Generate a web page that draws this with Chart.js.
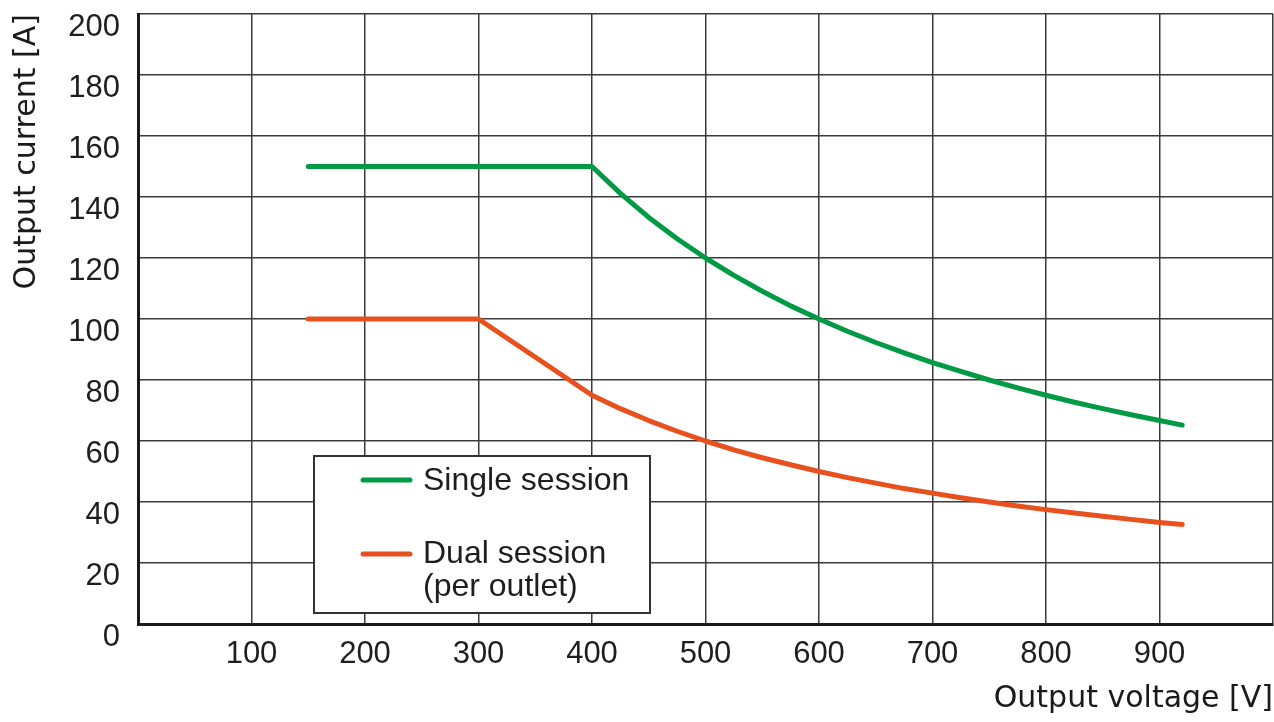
<!DOCTYPE html>
<html>
<head>
<meta charset="utf-8">
<script src="https://cdn.jsdelivr.net/npm/chart.js@4"></script>
<style>
  html, body { margin: 0; padding: 0; background: #ffffff; }
  #wrap { width: 1274px; height: 722px; }
</style>
</head>
<body>
<div id="wrap"><canvas id="c" width="1274" height="722"></canvas></div>
<script>
// ---- data ----
const singleVoltage = [150, 400, 425, 450, 475, 500, 525, 550, 575, 600, 625, 650, 675, 700, 725, 750, 775, 800, 825, 850, 875, 900, 920];
const singleCurrent = [150, 150, 141.2, 133.3, 126.3, 120, 114.3, 109.1, 104.3, 100, 96, 92.3, 88.9, 85.7, 82.8, 80, 77.4, 75, 72.7, 70.6, 68.6, 66.7, 65.2];
const dualVoltage = [150, 300, 400, 425, 450, 475, 500, 525, 550, 575, 600, 625, 650, 675, 700, 725, 750, 775, 800, 825, 850, 875, 900, 920];
const dualCurrent = [100, 100, 75, 70.6, 66.7, 63.2, 60, 57.1, 54.5, 52.2, 50, 48, 46.2, 44.4, 42.9, 41.4, 40, 38.7, 37.5, 36.4, 35.3, 34.3, 33.3, 32.6];
const seriesNames = ['Single session', 'Dual session\n(per outlet)'];
const seriesColors = ['#009a44', '#e8501e'];
const xTickValues = [100, 200, 300, 400, 500, 600, 700, 800, 900];
const xTitle = 'Output voltage [V]';
const yTitle = 'Output current [A]';

function toPoints(xs, ys) { return xs.map((x, i) => ({ x: x, y: ys[i] })); }

const legendBox = {
  id: 'legendBox',
  afterDatasetsDraw(chart) {
    const ctx = chart.ctx;
    const a = chart.chartArea;
    const left = a.left + 176, top = a.top + 442, w = 336, h = 157;
    ctx.save();
    ctx.fillStyle = '#ffffff';
    ctx.fillRect(left, top, w, h);
    ctx.strokeStyle = '#333333';
    ctx.lineWidth = 2;
    ctx.strokeRect(left, top, w, h);
    ctx.font = '32px "Liberation Sans", Arial, sans-serif';
    ctx.textBaseline = 'alphabetic';
    ctx.textAlign = 'left';
    const rows = [{ lineY: top + 24, baseY: top + 34 }, { lineY: top + 98, baseY: top + 107 }];
    chart.data.datasets.forEach((ds, i) => {
      const r = rows[i];
      ctx.strokeStyle = ds.borderColor;
      ctx.lineWidth = 5;
      ctx.lineCap = 'round';
      ctx.beginPath();
      ctx.moveTo(left + 49, r.lineY);
      ctx.lineTo(left + 96, r.lineY);
      ctx.stroke();
      ctx.fillStyle = '#1e1e1e';
      ds.label.split('\n').forEach((t, k) => {
        ctx.fillText(t, left + 109, r.baseY + k * 33);
      });
    });
    ctx.restore();
  }
};

new Chart(document.getElementById('c'), {
  type: 'scatter',
  data: {
    datasets: [
      {
        label: seriesNames[0],
        data: toPoints(singleVoltage, singleCurrent),
        showLine: true,
        borderColor: seriesColors[0],
        backgroundColor: seriesColors[0],
        borderWidth: 5,
        borderCapStyle: 'round',
        borderJoinStyle: 'round',
        pointRadius: 0,
        tension: 0
      },
      {
        label: seriesNames[1],
        data: toPoints(dualVoltage, dualCurrent),
        showLine: true,
        borderColor: seriesColors[1],
        backgroundColor: seriesColors[1],
        borderWidth: 5,
        borderCapStyle: 'round',
        borderJoinStyle: 'round',
        pointRadius: 0,
        tension: 0
      }
    ]
  },
  options: {
    responsive: false,
    animation: false,
    layout: { padding: { top: 14, right: 1, left: 0, bottom: 0 } },
    plugins: { legend: { display: false }, tooltip: { enabled: false } },
    scales: {
      x: {
        type: 'linear',
        min: 0,
        max: 1000,
        afterBuildTicks(scale) {
          scale.ticks = [0].concat(xTickValues, [1000]).map(v => ({ value: v }));
        },
        afterFit(scale) { scale.height = 98; scale.paddingLeft = 0; scale.paddingRight = 0; },
        grid: { color: '#3a3a3a', lineWidth: 1.5, drawTicks: false },
        border: { color: '#1a1a1a', width: 3 },
        ticks: {
          padding: 12,
          color: '#1e1e1e',
          font: { family: '"Liberation Sans", Arial, sans-serif', size: 31 },
          maxRotation: 0,
          autoSkip: false,
          callback: v => (xTickValues.includes(v) ? String(v) : '')
        },
        title: {
          display: true,
          text: xTitle,
          align: 'end',
          color: '#1a1a1a',
          font: { family: '"DejaVu Sans", sans-serif', size: 30 },
          padding: { top: 0, bottom: 5 }
        }
      },
      y: {
        type: 'linear',
        min: 0,
        max: 200,
        afterFit(scale) { scale.width = 138; scale.paddingTop = 0; scale.paddingBottom = 0; },
        grid: { color: '#3a3a3a', lineWidth: 1.5, drawTicks: false },
        border: { color: '#1a1a1a', width: 3 },
        ticks: {
          stepSize: 20,
          padding: 18,
          labelOffset: 13,
          color: '#1e1e1e',
          font: { family: '"Liberation Sans", Arial, sans-serif', size: 31 }
        },
        title: {
          display: true,
          text: yTitle,
          align: 'end',
          color: '#1a1a1a',
          font: { family: '"DejaVu Sans", sans-serif', size: 30 },
          padding: { top: 9, bottom: 0 }
        }
      }
    }
  },
  plugins: [legendBox]
});
</script>
</body>
</html>
